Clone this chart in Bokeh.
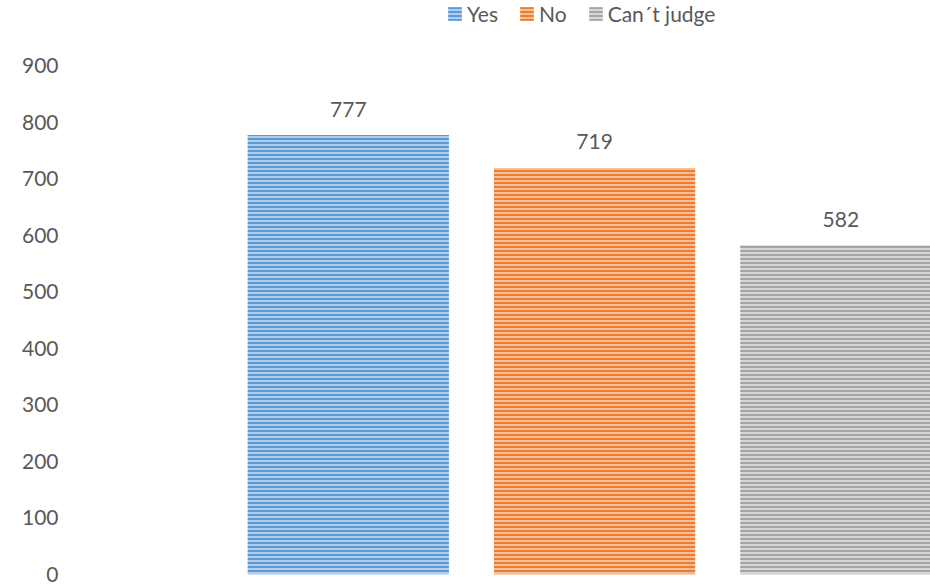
from bokeh.plotting import figure
from bokeh.models import ColumnDataSource, FixedTicker, Range1d, Legend, LegendItem, LabelSet
from bokeh.core.properties import value
from bokeh.embed import file_html
from bokeh.resources import INLINE

categories = ["Yes", "No", "Can´t judge"]
counts = [777, 719, 582]
tick_values = [0, 100, 200, 300, 400, 500, 600, 700, 800, 900]

hatch_colors = ["#5B9BD5", "#ED7D31", "#A5A5A5"]
fill_colors = ["#B3CEEC", "#F6BE98", "#D6D6D6"]
positions = [1, 2, 3]

FONT = "Lato"
TXT = "#595959"
FS = "21px"

p = figure(width=930, height=586, output_backend="svg", toolbar_location=None,
           x_range=Range1d(-0.128, 3.364), y_range=Range1d(0, 1015),
           min_border_left=70, min_border_right=0, min_border_top=0, min_border_bottom=12)
p.outline_line_color = None
p.xgrid.visible = False
p.ygrid.visible = False
p.xaxis.visible = False
p.yaxis.ticker = FixedTicker(ticks=tick_values)
p.yaxis.axis_line_color = None
p.yaxis.major_tick_line_color = None
p.yaxis.minor_tick_line_color = None
p.yaxis.major_tick_out = 0
p.yaxis.major_label_standoff = 12
p.yaxis.major_label_text_font = FONT
p.yaxis.major_label_text_font_size = FS
p.yaxis.major_label_text_color = TXT

items = []
for i, cat in enumerate(categories):
    src = ColumnDataSource(dict(x=[positions[i]], top=[counts[i]], lab=[str(counts[i])]))
    r = p.vbar(x="x", top="top", width=0.817, source=src,
               fill_color=fill_colors[i], line_color=None,
               hatch_pattern="horizontal_line", hatch_color=hatch_colors[i],
               hatch_scale=4, hatch_weight=2)
    items.append(LegendItem(label=cat, renderers=[r]))
    labels = LabelSet(x="x", y="top", text="lab", source=src, y_offset=26,
                      text_align="center", text_baseline="middle",
                      text_font=value(FONT), text_font_size=value(FS), text_color=value(TXT))
    p.add_layout(labels)

legend = Legend(items=items, orientation="horizontal", location=(376, 548),
                border_line_color=None, background_fill_alpha=0,
                padding=0, margin=0, spacing=20,
                glyph_width=17, glyph_height=17, label_standoff=4,
                label_text_font=FONT, label_text_font_size=FS,
                label_text_color=TXT)
p.add_layout(legend)

open("out.html", "w").write(file_html(p, INLINE))
